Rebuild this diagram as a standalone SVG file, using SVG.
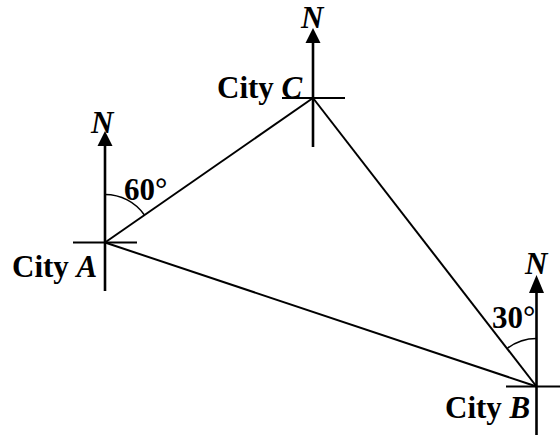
<svg xmlns="http://www.w3.org/2000/svg" width="560" height="435" viewBox="0 0 560 435">
<style>
text{font-family:"Liberation Serif","Times New Roman",serif;font-weight:bold;font-size:31px;fill:#000}
.i{font-style:italic}
.ax{stroke:#000;stroke-width:2.6;fill:none}
.cr{stroke:#000;stroke-width:2;fill:none}
.ln{stroke:#000;stroke-width:2;fill:none}
.arc{stroke:#000;stroke-width:1.5;fill:none}
.ah{fill:#000}
</style>
<rect width="560" height="435" fill="#fff"/>
<g id="connectors">
<line class="ln" x1="105" y1="242.5" x2="313" y2="98"/>
<line class="ln" x1="313" y1="98" x2="536.5" y2="386.5"/>
<line class="ln" x1="105" y1="242.5" x2="536.5" y2="386.5"/>
</g>
<g id="cityA">
<line class="ax" x1="105" y1="145" x2="105" y2="291"/>
<line class="cr" x1="73" y1="242.5" x2="137" y2="242.5"/>
<polygon class="ah" points="105,131 97.5,146 112.5,146"/>
<text class="i" x="91" y="133">N</text>
<path class="arc" d="M105,194.5 A48,48 0 0 1 144.4,215"/>
<text x="124" y="200">60°</text>
<text x="12" y="277">City <tspan class="i">A</tspan></text>
</g>
<g id="cityC">
<line class="ax" x1="313" y1="42" x2="313" y2="147"/>
<line class="cr" x1="282" y1="98" x2="345" y2="98"/>
<polygon class="ah" points="313,28 305.5,43 320.5,43"/>
<text class="i" x="301" y="28">N</text>
<text x="217" y="98">City <tspan class="i">C</tspan></text>
</g>
<g id="cityB">
<line class="ax" x1="536.5" y1="292" x2="536.5" y2="435"/>
<line class="cr" x1="506" y1="386.5" x2="560" y2="386.5"/>
<polygon class="ah" points="536.5,275 529,293 544,293"/>
<text class="i" x="525" y="274">N</text>
<path class="arc" d="M536.5,338.5 A48,48 0 0 0 507.2,348.5"/>
<text x="492" y="328">30°</text>
<text x="445" y="418">City <tspan class="i">B</tspan></text>
</g>
</svg>
